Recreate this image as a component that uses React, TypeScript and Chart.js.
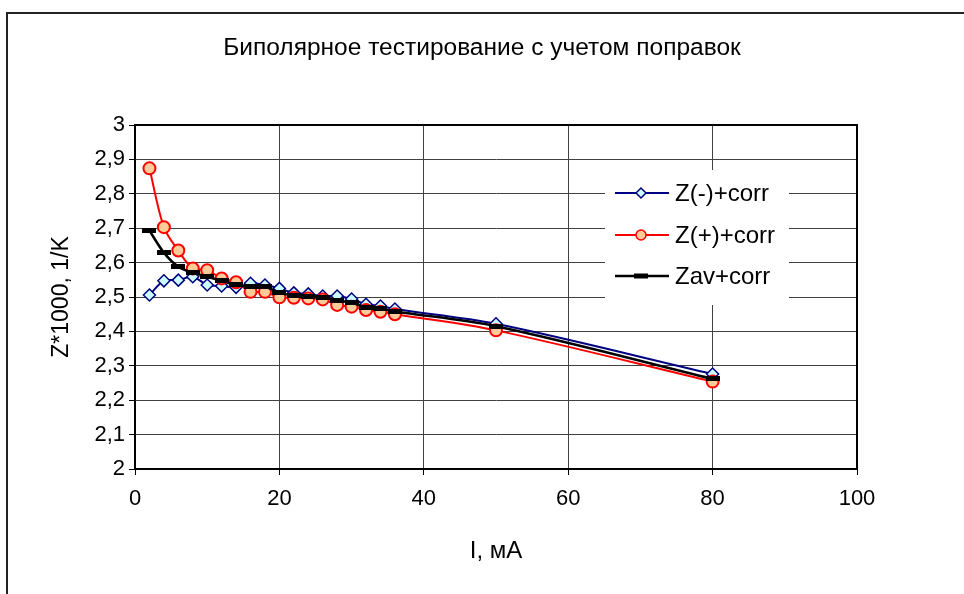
import React, { useEffect, useRef } from "react";
import { Chart, registerables } from "chart.js";

Chart.register(...registerables);

const currents = [2, 4, 6, 8, 10, 12, 14, 16, 18, 20, 22, 24, 26, 28, 30, 32, 34, 36, 50, 80];
const zMinus = [2.506, 2.547, 2.549, 2.559, 2.535, 2.532, 2.528, 2.540, 2.535, 2.525, 2.512, 2.509, 2.503, 2.503, 2.494, 2.479, 2.474, 2.465, 2.422, 2.276];
const zPlus = [2.874, 2.703, 2.635, 2.583, 2.578, 2.554, 2.543, 2.515, 2.515, 2.499, 2.498, 2.496, 2.493, 2.477, 2.472, 2.462, 2.457, 2.450, 2.403, 2.254];
const zAv = [2.693, 2.629, 2.588, 2.571, 2.559, 2.547, 2.535, 2.530, 2.530, 2.512, 2.505, 2.502, 2.498, 2.490, 2.483, 2.470, 2.466, 2.458, 2.415, 2.262];

const seriesNames = ["Z(-)+corr", "Z(+)+corr", "Zav+corr"];
const titleText = "Биполярное тестирование с учетом поправок";
const xTitle = "I, мА";
const yTitle = "Z*1000, 1/K";

const FONT = "'Liberation Sans', Arial, sans-serif";
const FS = 22;

function makeDash(w: number, h: number) {
  const c = document.createElement("canvas");
  c.width = w;
  c.height = h;
  const g = c.getContext("2d")!;
  g.fillStyle = "#000000";
  g.fillRect(0, 0, w, h);
  return c;
}

export default function App() {
  const ref = useRef<HTMLCanvasElement | null>(null);

  useEffect(() => {
    const canvas = ref.current;
    if (!canvas) return;
    const dash = makeDash(14, 5);
    const toPts = (arr: number[]) => currents.map((x, i) => ({ x, y: arr[i] }));

    const framePlugin = {
      id: "frame",
      beforeDraw(chart: any) {
        const ctx = chart.ctx;
        ctx.save();
        ctx.fillStyle = "#ffffff";
        ctx.fillRect(0, 0, chart.width, chart.height);
        ctx.strokeStyle = "#222222";
        ctx.lineWidth = 2;
        ctx.strokeRect(7, 13, 2000, 2000);
        ctx.fillStyle = "#000000";
        ctx.font = `24.5px ${FONT}`;
        ctx.textAlign = "center";
        ctx.textBaseline = "middle";
        ctx.fillText(titleText, 482, 48);
        ctx.restore();
      },
      afterDatasetsDraw(chart: any) {
        const { ctx, chartArea: a } = chart;
        ctx.save();
        ctx.strokeStyle = "#000000";
        ctx.lineWidth = 2;
        ctx.beginPath();
        ctx.moveTo(a.left, a.top);
        ctx.lineTo(a.right, a.top);
        ctx.lineTo(a.right, a.bottom);
        ctx.stroke();
        // legend
        const lx = 605, ly = 170, lw = 184, lh = 135;
        ctx.fillStyle = "#ffffff";
        ctx.fillRect(lx, ly, lw, lh);
        const rows = [193, 235, 276];
        const colors = ["#000080", "#ff0000", "#000000"];
        rows.forEach((y, i) => {
          ctx.strokeStyle = colors[i];
          ctx.lineWidth = i === 2 ? 2.5 : 2;
          ctx.beginPath();
          ctx.moveTo(615, y);
          ctx.lineTo(669, y);
          ctx.stroke();
          const mx = 641;
          if (i === 0) {
            ctx.beginPath();
            ctx.moveTo(mx, y - 5);
            ctx.lineTo(mx + 5, y);
            ctx.lineTo(mx, y + 5);
            ctx.lineTo(mx - 5, y);
            ctx.closePath();
            ctx.fillStyle = "#ccffff";
            ctx.fill();
            ctx.lineWidth = 1.5;
            ctx.strokeStyle = "#000080";
            ctx.stroke();
          } else if (i === 1) {
            ctx.beginPath();
            ctx.arc(mx, y, 5, 0, Math.PI * 2);
            ctx.fillStyle = "#ffcc99";
            ctx.fill();
            ctx.lineWidth = 1.5;
            ctx.strokeStyle = "#ff0000";
            ctx.stroke();
          } else {
            ctx.fillStyle = "#000000";
            ctx.fillRect(mx - 7, y - 2.5, 14, 5);
          }
          ctx.fillStyle = "#000000";
          ctx.font = `24px ${FONT}`;
          ctx.textAlign = "left";
          ctx.textBaseline = "middle";
          ctx.fillText(seriesNames[i], 675, y + 1);
        });
        ctx.restore();
      },
    };

    const chart = new Chart(canvas, {
      type: "line",
      data: {
        datasets: [
          {
            label: seriesNames[0],
            data: toPts(zMinus),
            borderColor: "#000080",
            borderWidth: 2,
            backgroundColor: "#ccffff",
            pointStyle: "rectRot",
            pointRadius: 6,
            pointBorderWidth: 1.5,
            pointBorderColor: "#000080",
            pointBackgroundColor: "#ccffff",
            tension: 0.33,
            order: 2,
          },
          {
            label: seriesNames[1],
            data: toPts(zPlus),
            borderColor: "#ff0000",
            borderWidth: 2,
            backgroundColor: "#ffcc99",
            pointStyle: "circle",
            pointRadius: 6,
            pointBorderWidth: 2,
            pointBorderColor: "#ff0000",
            pointBackgroundColor: "#ffcc99",
            tension: 0.33,
            order: 1,
          },
          {
            label: seriesNames[2],
            data: toPts(zAv),
            borderColor: "#000000",
            borderWidth: 2.5,
            pointStyle: dash as any,
            pointRadius: 7,
            tension: 0.33,
            order: 0,
          },
        ],
      },
      options: {
        responsive: false,
        animation: false,
        devicePixelRatio: 1,
        layout: { padding: { left: 0, right: 107, top: 125, bottom: 0 } },
        plugins: {
          legend: { display: false },
          tooltip: { enabled: false },
          title: { display: false },
        },
        scales: {
          x: {
            type: "linear",
            min: 0,
            max: 100,
            ticks: {
              stepSize: 20,
              color: "#000000",
              font: { family: FONT, size: FS },
              padding: 11,
              maxRotation: 0,
            },
            grid: {
              color: "#404040",
              lineWidth: 1,
              tickLength: 6,
              tickColor: "#000000",
            },
            border: { color: "#000000", width: 2 },
            title: {
              display: true,
              text: xTitle,
              color: "#000000",
              font: { family: FONT, size: 24 },
              padding: { top: 0, bottom: 28 },
            },
            afterFit(scale: any) {
              scale.height = 594 - 469;
            },
          },
          y: {
            type: "linear",
            min: 2,
            max: 3,
            ticks: {
              stepSize: 0.1,
              color: "#000000",
              font: { family: FONT, size: FS },
              padding: 4,
              callback: (v: any) => {
                const n = Math.round(Number(v) * 10) / 10;
                return Number.isInteger(n) ? String(n) : n.toFixed(1).replace(".", ",");
              },
            },
            grid: {
              color: "#404040",
              lineWidth: 1,
              tickLength: 6,
              tickColor: "#000000",
            },
            border: { color: "#000000", width: 2 },
            title: {
              display: true,
              text: yTitle,
              color: "#000000",
              font: { family: FONT, size: 23 },
              padding: { top: 48, bottom: 0 },
            },
            afterFit(scale: any) {
              scale.width = 135;
            },
          },
        },
      },
      plugins: [framePlugin],
    });

    return () => chart.destroy();
  }, []);

  return (
    <div style={{ position: "fixed", left: 0, top: 0, width: 964, height: 594, background: "#fff" }}>
      <canvas ref={ref} width={964} height={594} style={{ display: "block", width: 964, height: 594 }} />
    </div>
  );
}
